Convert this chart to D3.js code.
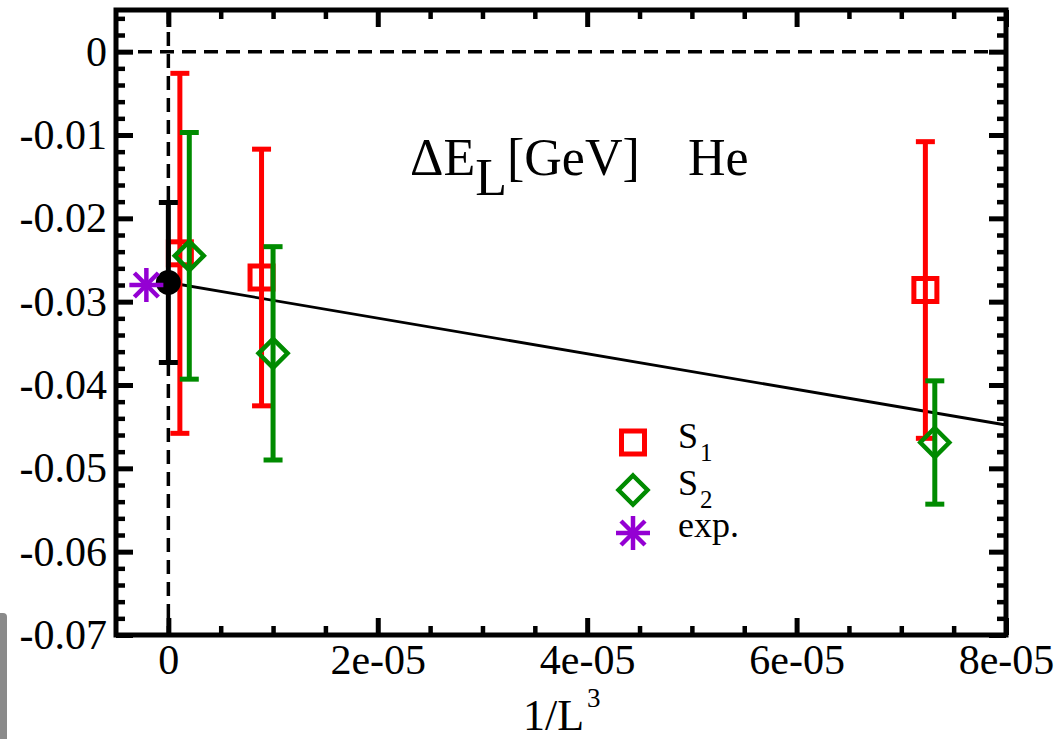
<!DOCTYPE html>
<html>
<head>
<meta charset="utf-8">
<script src="https://cdn.jsdelivr.net/npm/d3@7"></script>
<style>
  html, body { margin: 0; padding: 0; background: #fff; }
  svg { display: block; }
  text { font-family: "Liberation Serif", "Times New Roman", Times, serif; fill: #000; }
</style>
</head>
<body>
<svg id="chart" width="1060" height="739"></svg>
<script>
// Lattice extrapolation of the He binding-energy shift vs 1/L^3
const s1X = [1.1e-6, 8.9e-6, 7.23e-5];
const s1Y = [-0.0242, -0.0271, -0.0286];
const s1Err = [0.0216, 0.0154, 0.0178];

const s2X = [2.0e-6, 1.0e-5, 7.32e-5];
const s2Y = [-0.0245, -0.0362, -0.0469];
const s2Err = [0.0148, 0.0128, 0.0074];

// infinite-volume extrapolated value
const extX = [0];
const extY = [-0.0277];
const extErr = [0.0096];

// linear fit
const fitX = [0, 8e-5];
const fitY = [-0.0277, -0.0448];

// experiment
const expX = [-2.1e-6];
const expY = [-0.0280];

const xTicks = [0, 2e-5, 4e-5, 6e-5, 8e-5];
const xTickLabels = ["0", "2e-05", "4e-05", "6e-05", "8e-05"];
const yTicks = [0, -0.01, -0.02, -0.03, -0.04, -0.05, -0.06, -0.07];
const yTickLabels = ["0", "-0.01", "-0.02", "-0.03", "-0.04", "-0.05", "-0.06", "-0.07"];

const legendNames = ["S", "S", "exp."];
const legendSubs = ["1", "2", ""];

const RED = "#ff0000", GREEN = "#008b00", VIOLET = "#9400d3";

const svg = d3.select("#chart");
const x = d3.scaleLinear().domain([-5e-6, 8e-5]).range([116, 1006]);
const y = d3.scaleLinear().domain([-0.07, 0.005]).range([635, 10]);
const [x0, x1] = x.range();
const [y0, y1] = y.range();

// small grey tab at the lower-left edge
svg.append("path")
  .attr("d", "M0,613 L3,613 Q7,613 7,617 L7,739 L0,739 Z")
  .attr("fill", "#8a8a8a");

// zero reference lines
const dashed = svg.append("g").attr("stroke", "#000").attr("stroke-width", 3.5)
  .attr("stroke-dasharray", "14,8").attr("fill", "none");
dashed.append("line").attr("x1", x0).attr("x2", x1).attr("y1", y(0)).attr("y2", y(0));
dashed.append("line").attr("x1", x(0)).attr("x2", x(0)).attr("y1", y1).attr("y2", y0);

// minor tick positions
const xMinor = d3.range(1, 16).map(i => i * 5e-6).filter((v, i) => (i + 1) % 4 !== 0);
const yMinor = d3.range(-35, 3).map(i => i * 0.002).filter(v => Math.abs(Math.round(v * 1000)) % 10 !== 0);

function styleAxis(g, w) {
  g.select(".domain").remove();
  g.selectAll(".tick line").attr("stroke", "#000").attr("stroke-width", w);
}

// left axis with labels
svg.append("g").attr("transform", `translate(${x0},0)`)
  .call(d3.axisLeft(y).tickValues(yTicks).tickSize(-17).tickPadding(9)
    .tickFormat((d, i) => yTickLabels[i]))
  .call(g => styleAxis(g, 5))
  .call(g => g.selectAll("text").attr("font-size", 42));
svg.append("g").attr("transform", `translate(${x0},0)`)
  .call(d3.axisLeft(y).tickValues(yMinor).tickSize(-9).tickFormat(""))
  .call(g => styleAxis(g, 4.5));

// right mirror ticks
svg.append("g").attr("transform", `translate(${x1},0)`)
  .call(d3.axisRight(y).tickValues(yTicks).tickSize(-17).tickFormat(""))
  .call(g => styleAxis(g, 5));
svg.append("g").attr("transform", `translate(${x1},0)`)
  .call(d3.axisRight(y).tickValues(yMinor).tickSize(-9).tickFormat(""))
  .call(g => styleAxis(g, 4.5));

// bottom axis with labels
svg.append("g").attr("transform", `translate(0,${y0})`)
  .call(d3.axisBottom(x).tickValues(xTicks).tickSize(-17).tickPadding(9)
    .tickFormat((d, i) => xTickLabels[i]))
  .call(g => styleAxis(g, 5))
  .call(g => g.selectAll("text").attr("font-size", 42));
svg.append("g").attr("transform", `translate(0,${y0})`)
  .call(d3.axisBottom(x).tickValues(xMinor).tickSize(-9).tickFormat(""))
  .call(g => styleAxis(g, 4.5));

// top mirror ticks
svg.append("g").attr("transform", `translate(0,${y1})`)
  .call(d3.axisTop(x).tickValues(xTicks).tickSize(-17).tickFormat(""))
  .call(g => styleAxis(g, 5));
svg.append("g").attr("transform", `translate(0,${y1})`)
  .call(d3.axisTop(x).tickValues(xMinor).tickSize(-9).tickFormat(""))
  .call(g => styleAxis(g, 4.5));

// frame
svg.append("rect").attr("x", x0).attr("y", y1).attr("width", x1 - x0).attr("height", y0 - y1)
  .attr("fill", "none").attr("stroke", "#000").attr("stroke-width", 5);

// fit line
svg.append("path")
  .datum(fitX.map((v, i) => [v, fitY[i]]))
  .attr("d", d3.line().x(d => x(d[0])).y(d => y(d[1])))
  .attr("fill", "none").attr("stroke", "#000").attr("stroke-width", 2.8);

function errorBars(xs, ys, es, color) {
  const g = svg.append("g").attr("stroke", color).attr("stroke-width", 5).attr("fill", "none");
  xs.forEach((xv, i) => {
    const cx = x(xv), top = y(ys[i] + es[i]), bot = y(ys[i] - es[i]);
    g.append("line").attr("x1", cx).attr("x2", cx).attr("y1", top).attr("y2", bot);
    g.append("line").attr("x1", cx - 9.5).attr("x2", cx + 9.5).attr("y1", top).attr("y2", top);
    g.append("line").attr("x1", cx - 9.5).attr("x2", cx + 9.5).attr("y1", bot).attr("y2", bot);
  });
  return g;
}

function square(g, cx, cy, color) {
  g.append("rect").attr("x", cx - 11.5).attr("y", cy - 11.5).attr("width", 23).attr("height", 23)
    .attr("fill", "none").attr("stroke", color).attr("stroke-width", 5);
}
function diamond(g, cx, cy, color) {
  const r = 14.5;
  g.append("path").attr("d", `M${cx},${cy - r}L${cx + r},${cy}L${cx},${cy + r}L${cx - r},${cy}Z`)
    .attr("fill", "none").attr("stroke", color).attr("stroke-width", 4.5);
}
function asterisk(g, cx, cy, color) {
  const r = 17, d = 12;
  const a = g.append("g").attr("stroke", color).attr("stroke-width", 4.5);
  a.append("line").attr("x1", cx).attr("x2", cx).attr("y1", cy - r).attr("y2", cy + r);
  a.append("line").attr("x1", cx - r).attr("x2", cx + r).attr("y1", cy).attr("y2", cy);
  a.append("line").attr("x1", cx - d).attr("x2", cx + d).attr("y1", cy - d).attr("y2", cy + d);
  a.append("line").attr("x1", cx - d).attr("x2", cx + d).attr("y1", cy + d).attr("y2", cy - d);
}

// S1 series
const gS1 = errorBars(s1X, s1Y, s1Err, RED);
s1X.forEach((v, i) => square(gS1, x(v), y(s1Y[i]), RED));

// S2 series
const gS2 = errorBars(s2X, s2Y, s2Err, GREEN);
s2X.forEach((v, i) => diamond(gS2, x(v), y(s2Y[i]), GREEN));

// extrapolated point
const gExt = errorBars(extX, extY, extErr, "#000");
extX.forEach((v, i) => gExt.append("circle").attr("cx", x(v)).attr("cy", y(extY[i])).attr("r", 12.5)
  .attr("fill", "#000").attr("stroke", "none"));

// experimental value
const gExp = svg.append("g");
expX.forEach((v, i) => asterisk(gExp, x(v), y(expY[i]), VIOLET));

// legend
const legend = svg.append("g");
const legY = [442.5, 490, 533];
square(legend, 633, legY[0], RED);
diamond(legend, 633, legY[1], GREEN);
asterisk(legend, 633, legY[2], VIOLET);
const legBase = [448, 495, 537];
legendNames.forEach((name, i) => {
  const t = legend.append("text").attr("x", 678).attr("y", legBase[i]).attr("font-size", 36).text(name);
  if (legendSubs[i]) {
    t.append("tspan").attr("dy", 13).attr("dx", 2).attr("font-size", 25).text(legendSubs[i]);
  }
});

// title
const title = svg.append("text").attr("x", 410).attr("y", 175).attr("font-size", 52);
title.append("tspan").text("\u0394E");
title.append("tspan").attr("dy", 20).text("L");
title.append("tspan").attr("dy", -20).text("[GeV]");
title.append("tspan").attr("x", 688).text("He");

// x-axis title
const xt = svg.append("text").attr("x", 523).attr("y", 730).attr("font-size", 44);
xt.append("tspan").text("1/L");
xt.append("tspan").attr("dy", -23).attr("dx", 3).attr("font-size", 27).text("3");
</script>
</body>
</html>
